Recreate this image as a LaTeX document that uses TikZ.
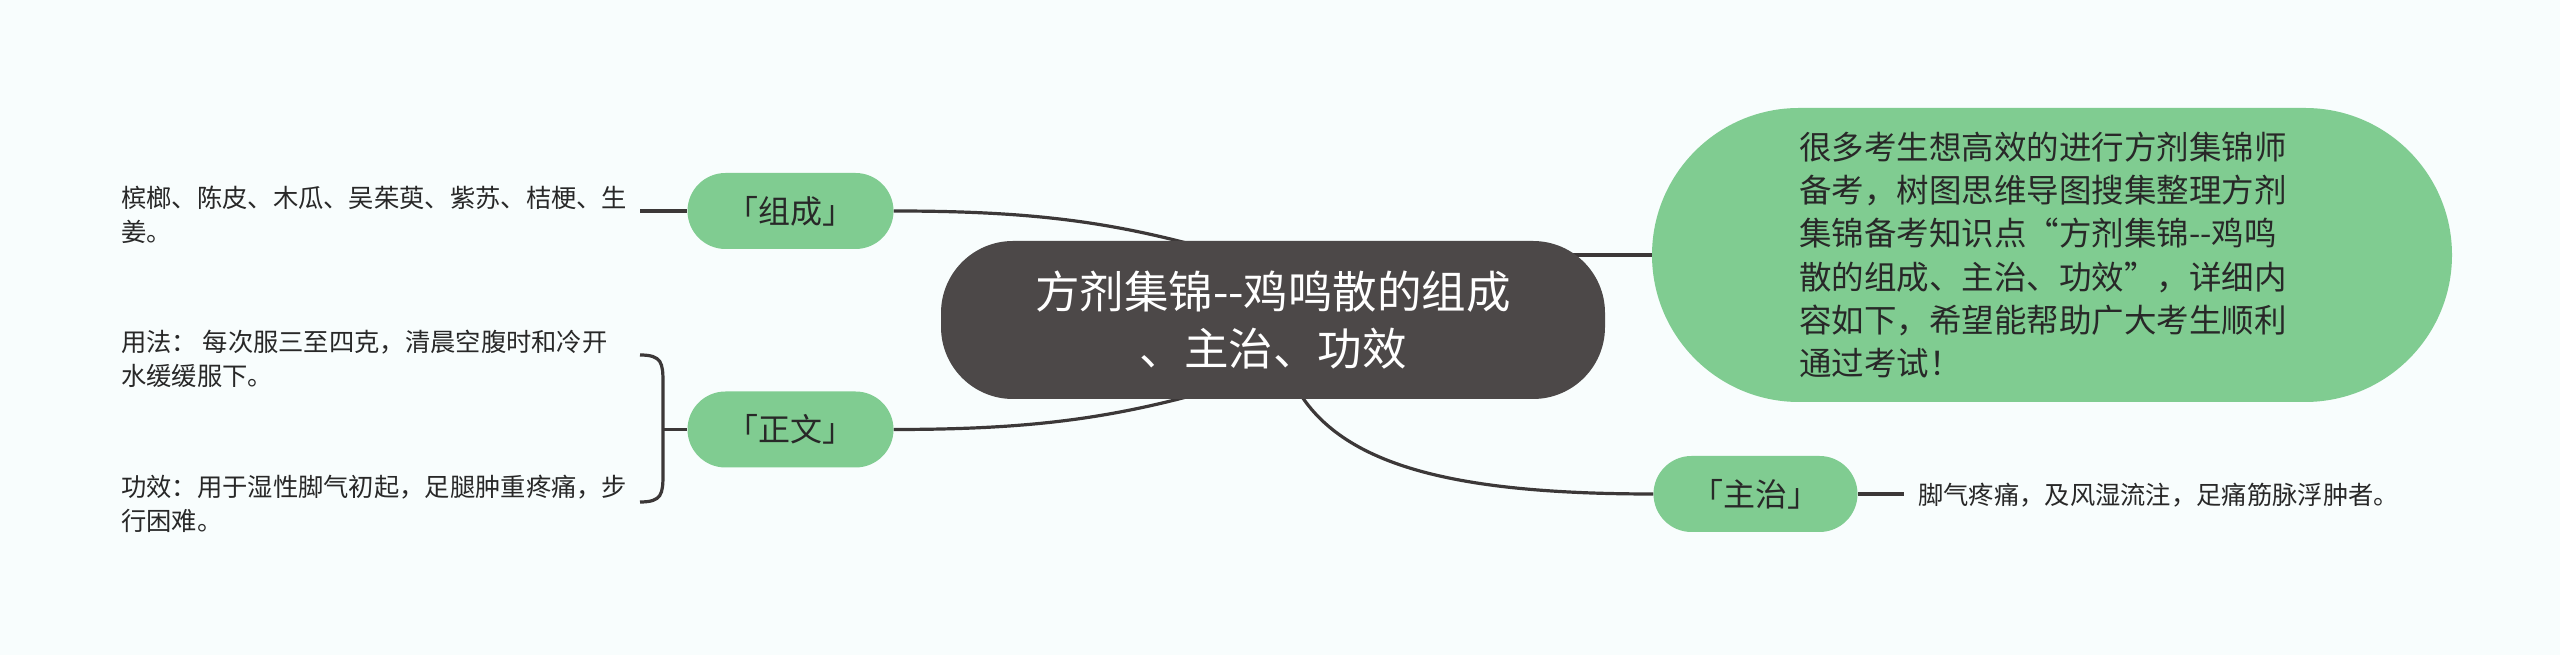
\documentclass[tikz,border=0pt]{standalone}
\usepackage{fontspec}
\newfontfamily\cjk{Noto Sans CJK SC}
\usetikzlibrary{backgrounds}
\definecolor{bg}{RGB}{248,253,253}
\definecolor{leafgreen}{RGB}{128,204,145}
\definecolor{rootdark}{RGB}{76,72,72}
\definecolor{linec}{RGB}{60,56,56}
\definecolor{txt}{RGB}{40,40,40}
\begin{document}
\begin{tikzpicture}[x=1pt,y=1pt,
  conn/.style={draw=linec,line width=3.2pt},
  rootbox/.style={fill=rootdark, rounded corners=72pt, minimum width=664pt, minimum height=158pt, text=white, align=center, inner sep=0pt, font=\cjk\fontsize{44.5}{57}\selectfont},
  catbox/.style={fill=leafgreen, rounded corners=38pt, minimum width=206pt, minimum height=76pt, text=txt, inner sep=0pt, font=\cjk\fontsize{32}{38}\selectfont},
  bigbox/.style={fill=leafgreen, rounded corners=147pt, minimum width=800pt, minimum height=294pt, text width=506pt, align=left, inner sep=0pt, text=txt, font=\cjk\fontsize{32.5}{43.3}\selectfont},
  leaf/.style={text=txt, align=left, inner sep=0pt, anchor=west, font=\cjk\fontsize{25.3}{34}\selectfont}
]
\useasboundingbox (0,0) rectangle (2560,655);

% nodes
\node[rootbox] (root) at (1273,335) {方剂集锦--鸡鸣散的组成\\、主治、功效};
\node[catbox] (zc) at (790.5,444) {「组成」};
\node[catbox] (zw) at (790.5,225.5) {「正文」};
\node[catbox, minimum width=204pt] (zz) at (1755.5,161) {「主治」};
\node[bigbox] (intro) at (2052,400) {很多考生想高效的进行方剂集锦师\\备考，树图思维导图搜集整理方剂\\集锦备考知识点“方剂集锦--鸡鸣\\散的组成、主治、功效”，详细内\\容如下，希望能帮助广大考生顺利\\通过考试！};

\node[leaf] (t1) at (121,440.5) {槟榔、陈皮、木瓜、吴茱萸、紫苏、桔梗、生\\姜。};
\node[leaf] (t2) at (121,296.5) {用法：  每次服三至四克，清晨空腹时和冷开\\水缓缓服下。};
\node[leaf] (t3) at (121,151.5) {功效：用于湿性脚气初起，足腿肿重疼痛，步\\行困难。};
\node[leaf] (t4) at (1918,160) {脚气疼痛，及风湿流注，足痛筋脉浮肿者。};

% leaf connectors
\coordinate (c1) at (640,444);
\draw[conn] (c1) -- (zc.west);
\coordinate (b1) at (640,300);
\coordinate (b2) at (640,153);
\coordinate (bm) at (663,225.5);
\draw[conn] (b1) .. controls (662,300) and (663,292) .. (663,272) -- (663,181) .. controls (663,161) and (662,153) .. (b2);
\draw[conn] (bm) -- (zw.west);
\coordinate (c3) at (1904,161);
\draw[conn] (zz.east) -- (c3);

% main connectors (behind nodes)
\coordinate (r1) at (1230,400);
\coordinate (r2) at (1230,270);
\coordinate (r3) at (1290,280);
\begin{pgfonlayer}{background}
\fill[bg] (0,0) rectangle (2560,655);
\draw[conn] (zc.east) .. controls (1040,444) and (1120,432) .. (r1);
\draw[conn] (zw.east) .. controls (1040,225.5) and (1120,238) .. (r2);
\draw[conn] (root.center |- intro.west) -- (intro.west);
\draw[conn] (r3) .. controls (1330,190) and (1450,161) .. (zz.west);
\end{pgfonlayer}
\end{tikzpicture}
\end{document}
